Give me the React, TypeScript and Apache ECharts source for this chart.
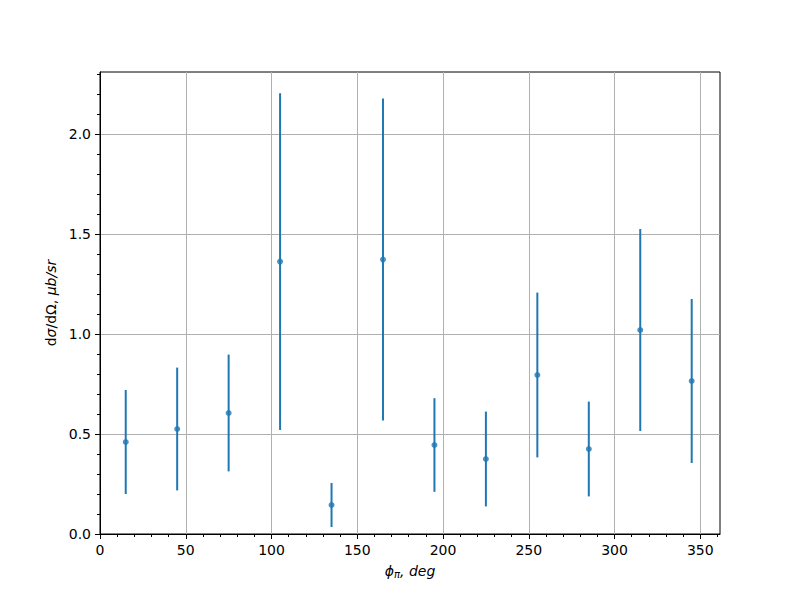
import React, { useEffect, useRef } from "react";
import * as echarts from "echarts";

const phi = [15, 45, 75, 105, 135, 165, 195, 225, 255, 285, 315, 345];
const sigma = [0.46, 0.525, 0.605, 1.362, 0.145, 1.372, 0.445, 0.375, 0.795, 0.425, 1.02, 0.765];
const errors = [0.26, 0.307, 0.292, 0.842, 0.11, 0.805, 0.234, 0.237, 0.412, 0.237, 0.505, 0.41];
const xMajorTicks = [0, 50, 100, 150, 200, 250, 300, 350];
const yMajorTicks = [0, 0.5, 1.0, 1.5, 2.0];

const X_MIN = 0;
const X_MAX = 361.5;
const Y_MIN = 0;
const Y_MAX = 2.31;

const xMinorTicks: number[] = [];
for (let v = 10; v <= 360; v += 10) xMinorTicks.push(v);
const yMinorTicks: number[] = [];
for (let i = 1; i <= 23; i++) yMinorTicks.push(Math.round(i * 10) / 100);

const FONT = "DejaVu Sans";
const BLUE = "#1f77b4";

export default function App() {
  const ref = useRef<HTMLDivElement>(null);
  useEffect(() => {
    if (!ref.current) return;
    const chart = echarts.init(ref.current, null, { renderer: "svg" });
    const pts = phi.map((x, i) => [x, sigma[i], errors[i]]);
    const baseX = {
      type: "value",
      min: X_MIN,
      max: X_MAX,
      position: "bottom",
      gridIndex: 0,
    };
    const baseY = {
      type: "value",
      min: Y_MIN,
      max: Y_MAX,
      position: "left",
      gridIndex: 0,
    };
    chart.setOption({
      animation: false,
      backgroundColor: "#ffffff",
      grid: {
        left: 100,
        right: 80,
        top: 72,
        bottom: 66,
        show: true,
        borderColor: "#000",
        borderWidth: 1,
        backgroundColor: "transparent",
      },
      xAxis: [
        {
          ...baseX,
          interval: 50,
          name: "{i|ϕ}{s|π}{i|, deg}",
          nameLocation: "middle",
          nameGap: 29,
          nameTextStyle: {
            rich: {
              i: { fontFamily: FONT, fontSize: 14, fontStyle: "italic", color: "#000" },
              s: { fontFamily: FONT, fontSize: 10, fontStyle: "italic", color: "#000", verticalAlign: "bottom", padding: [6, 0, 0, 0] },
            },
          },
          axisLine: { show: true, onZero: false, lineStyle: { color: "#000", width: 1 } },
          axisTick: { show: true, length: 5, lineStyle: { color: "#000", width: 1 }, customValues: xMajorTicks },
          axisLabel: { show: true, margin: 9, fontFamily: FONT, fontSize: 14, color: "#000", customValues: xMajorTicks },
          splitLine: { show: true, lineStyle: { color: "#b0b0b0", width: 1 } },
        },
        {
          ...baseX,
          axisLine: { show: false, onZero: false },
          axisTick: { show: true, length: 3, lineStyle: { color: "#000", width: 1 }, customValues: xMinorTicks },
          axisLabel: { show: false },
          splitLine: { show: false },
        },
      ],
      yAxis: [
        {
          ...baseY,
          interval: 0.5,
          name: "{r|d}{i|σ}{r|/dΩ, }{i|μb/sr}",
          nameLocation: "middle",
          nameGap: 40,
          nameRotate: 90,
          nameTextStyle: {
            rich: {
              r: { fontFamily: FONT, fontSize: 14, color: "#000" },
              i: { fontFamily: FONT, fontSize: 14, fontStyle: "italic", color: "#000" },
            },
          },
          axisLine: { show: true, onZero: false, lineStyle: { color: "#000", width: 1 } },
          axisTick: { show: true, length: 5, lineStyle: { color: "#000", width: 1 }, customValues: yMajorTicks },
          axisLabel: {
            show: true,
            margin: 9,
            fontFamily: FONT,
            fontSize: 14,
            color: "#000",
            customValues: yMajorTicks,
            formatter: (v: number) => v.toFixed(1),
          },
          splitLine: { show: true, lineStyle: { color: "#b0b0b0", width: 1 } },
        },
        {
          ...baseY,
          axisLine: { show: false, onZero: false },
          axisTick: { show: true, length: 3, lineStyle: { color: "#000", width: 1 }, customValues: yMinorTicks },
          axisLabel: { show: false },
          splitLine: { show: false },
        },
      ],
      series: [
        {
          type: "custom",
          xAxisIndex: 0,
          yAxisIndex: 0,
          data: pts,
          encode: { x: 0, y: 1 },
          renderItem: (params: any, api: any) => {
            const x = api.value(0);
            const y = api.value(1);
            const e = api.value(2);
            const top = api.coord([x, y + e]);
            const bot = api.coord([x, y - e]);
            return {
              type: "line",
              shape: { x1: top[0], y1: top[1], x2: bot[0], y2: bot[1] },
              style: { stroke: BLUE, lineWidth: 2 },
            };
          },
          z: 2,
        },
        {
          type: "scatter",
          xAxisIndex: 0,
          yAxisIndex: 0,
          data: pts.map((p) => [p[0], p[1]]),
          symbol: "circle",
          symbolSize: 6,
          itemStyle: { color: BLUE },
          z: 3,
        },
      ],
    });
    return () => chart.dispose();
  }, []);
  return (
    <div
      ref={ref}
      style={{ width: 800, height: 600, position: "fixed", left: 0, top: 0 }}
    />
  );
}
